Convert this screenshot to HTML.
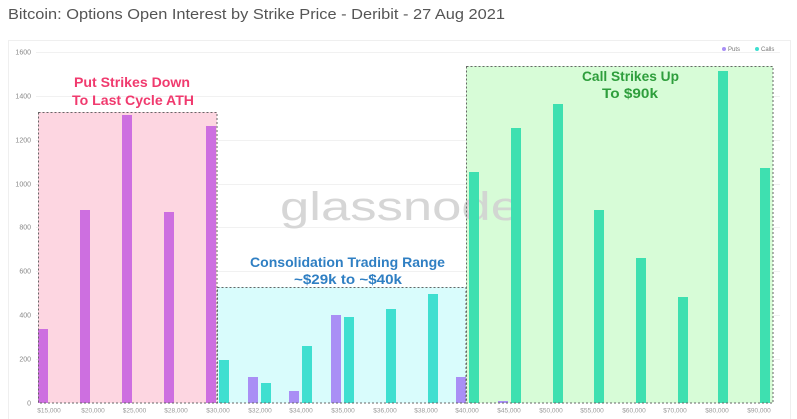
<!DOCTYPE html>
<html>
<head>
<meta charset="utf-8">
<style>
  html,body{margin:0;padding:0;background:#fff;}
  body{width:797px;height:419px;overflow:hidden;}
  svg{display:block;font-family:"Liberation Sans",sans-serif;}
</style>
</head>
<body>
<svg width="797" height="419" viewBox="0 0 797 419" xmlns="http://www.w3.org/2000/svg">
  <!-- title -->
  <text x="8" y="19" font-size="14.5" fill="#555" textLength="497" lengthAdjust="spacingAndGlyphs">Bitcoin: Options Open Interest by Strike Price - Deribit - 27 Aug 2021</text>

  <!-- card -->
  <rect x="8.5" y="40.5" width="782" height="385" fill="#fff" stroke="#efefef" stroke-width="1"/>

  <!-- gridlines -->
  <g stroke="#f1f1f1" stroke-width="1">
    <line x1="36" y1="52.5" x2="780" y2="52.5"/>
    <line x1="36" y1="96.5" x2="780" y2="96.5"/>
    <line x1="36" y1="140.5" x2="780" y2="140.5"/>
    <line x1="36" y1="184.5" x2="780" y2="184.5"/>
    <line x1="36" y1="227.5" x2="780" y2="227.5"/>
    <line x1="36" y1="271.5" x2="780" y2="271.5"/>
    <line x1="36" y1="315.5" x2="780" y2="315.5"/>
    <line x1="36" y1="359.5" x2="780" y2="359.5"/>
  </g>

  <!-- y labels -->
  <g font-size="7" fill="#888" text-anchor="end">
    <text x="31" y="54.5">1600</text>
    <text x="31" y="98.5">1400</text>
    <text x="31" y="142.5">1200</text>
    <text x="31" y="186.5">1000</text>
    <text x="31" y="229.5">800</text>
    <text x="31" y="273.5">600</text>
    <text x="31" y="317.5">400</text>
    <text x="31" y="361.5">200</text>
    <text x="31" y="405.5">0</text>
  </g>

  <!-- region fills -->
  <rect x="38" y="112" width="179" height="291" fill="#fdd6e1"/>
  <rect x="217" y="287" width="249" height="116" fill="#d9fcfc"/>
  <rect x="466" y="66" width="307" height="337" fill="#d7fcd7"/>

  <!-- watermark -->
  <text x="280" y="220" font-size="40" fill="#d2d2d2" fill-opacity="0.9" textLength="240" lengthAdjust="spacingAndGlyphs">glassnode</text>

  <!-- puts bars -->
  <g fill="#cd6fe0">
    <rect x="38" y="329" width="10" height="74"/>
    <rect x="80" y="210" width="10" height="193"/>
    <rect x="122" y="115" width="10" height="288"/>
    <rect x="164" y="212" width="10" height="191"/>
    <rect x="206" y="126" width="10" height="277"/>
  </g>
  <g fill="#a98ff5">
    <rect x="248" y="377" width="10" height="26"/>
    <rect x="289" y="391" width="10" height="12"/>
    <rect x="331" y="315" width="10" height="88"/>
    <rect x="456" y="377" width="10" height="26"/>
    <rect x="498" y="401" width="10" height="2"/>
  </g>

  <!-- calls bars -->
  <g fill="#3fdfd0">
    <rect x="219" y="360" width="10" height="43"/>
    <rect x="261" y="383" width="10" height="20"/>
    <rect x="302" y="346" width="10" height="57"/>
    <rect x="344" y="317" width="10" height="86"/>
    <rect x="386" y="309" width="10" height="94"/>
    <rect x="428" y="294" width="10" height="109"/>
  </g>
  <g fill="#3ee0b0">
    <rect x="469" y="172" width="10" height="231"/>
    <rect x="511" y="128" width="10" height="275"/>
    <rect x="553" y="104" width="10" height="299"/>
    <rect x="594" y="210" width="10" height="193"/>
    <rect x="636" y="258" width="10" height="145"/>
    <rect x="678" y="297" width="10" height="106"/>
    <rect x="718" y="71" width="10" height="332"/>
    <rect x="760" y="168" width="10" height="235"/>
  </g>

  <!-- dashed borders -->
  <g fill="none" stroke="#666" stroke-width="1" stroke-dasharray="2,2">
    <rect x="38.5" y="112.5" width="178.5" height="290.5"/>
    <rect x="217.5" y="287.5" width="248.5" height="115.5"/>
    <rect x="466.5" y="66.5" width="306.5" height="336.5"/>
  </g>

  <!-- annotations -->
  <g font-weight="bold" font-size="14" text-anchor="middle">
    <text x="132" y="87" fill="#f03a6e" textLength="116" lengthAdjust="spacingAndGlyphs">Put Strikes Down</text>
    <text x="133" y="105" fill="#f03a6e" textLength="122" lengthAdjust="spacingAndGlyphs">To Last Cycle ATH</text>
    <text x="347.5" y="267" fill="#2f7fc3" textLength="195" lengthAdjust="spacingAndGlyphs">Consolidation Trading Range</text>
    <text x="348" y="284" fill="#2f7fc3" textLength="108" lengthAdjust="spacingAndGlyphs">~$29k to ~$40k</text>
    <text x="630.5" y="81" fill="#2e9e3c" textLength="97" lengthAdjust="spacingAndGlyphs">Call Strikes Up</text>
    <text x="630" y="98" fill="#2e9e3c" textLength="56" lengthAdjust="spacingAndGlyphs">To $90k</text>
  </g>

  <!-- x labels -->
  <g font-size="6.5" fill="#999" text-anchor="middle">
    <text x="49" y="412.5">$15,000</text>
    <text x="93" y="412.5">$20,000</text>
    <text x="134.5" y="412.5">$25,000</text>
    <text x="176" y="412.5">$28,000</text>
    <text x="218" y="412.5">$30,000</text>
    <text x="260" y="412.5">$32,000</text>
    <text x="301" y="412.5">$34,000</text>
    <text x="343" y="412.5">$35,000</text>
    <text x="385" y="412.5">$36,000</text>
    <text x="426" y="412.5">$38,000</text>
    <text x="467" y="412.5">$40,000</text>
    <text x="509" y="412.5">$45,000</text>
    <text x="551" y="412.5">$50,000</text>
    <text x="592" y="412.5">$55,000</text>
    <text x="634" y="412.5">$60,000</text>
    <text x="675" y="412.5">$70,000</text>
    <text x="717" y="412.5">$80,000</text>
    <text x="759" y="412.5">$90,000</text>
  </g>

  <!-- legend -->
  <circle cx="724" cy="49" r="2" fill="#a98ff5"/>
  <text x="728" y="51" font-size="6" fill="#777">Puts</text>
  <circle cx="757" cy="49" r="2" fill="#3fdfd0"/>
  <text x="761" y="51" font-size="6" fill="#777">Calls</text>
</svg>
</body>
</html>
